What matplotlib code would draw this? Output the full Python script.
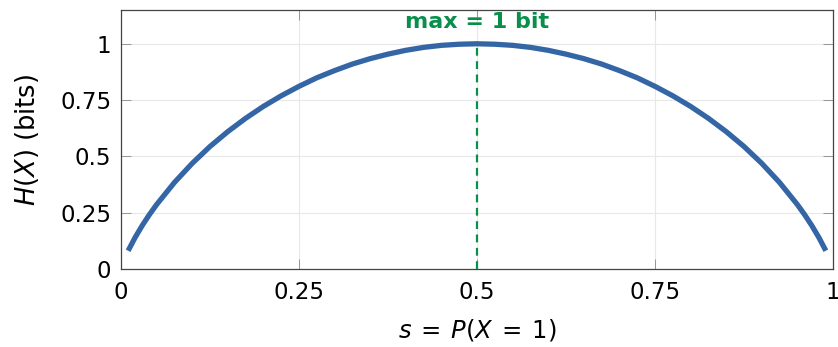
import matplotlib
matplotlib.use("Agg")
import matplotlib.pyplot as plt

# Values
s_vals = [0.01, 0.02, 0.03, 0.04, 0.05, 0.075, 0.1, 0.125, 0.15, 0.175, 0.2, 0.225,
          0.25, 0.275, 0.3, 0.325, 0.35, 0.375, 0.4, 0.425, 0.45, 0.475, 0.5,
          0.525, 0.55, 0.575, 0.6, 0.625, 0.65, 0.675, 0.7, 0.725, 0.75, 0.775,
          0.8, 0.825, 0.85, 0.875, 0.9, 0.925, 0.95, 0.96, 0.97, 0.98, 0.99]
h_vals = [0.081, 0.141, 0.194, 0.242, 0.286, 0.384, 0.469, 0.544, 0.610, 0.669, 0.722, 0.769,
          0.811, 0.849, 0.881, 0.910, 0.934, 0.954, 0.971, 0.984, 0.993, 0.998, 1.000,
          0.998, 0.993, 0.984, 0.971, 0.954, 0.934, 0.910, 0.881, 0.849, 0.811, 0.769,
          0.722, 0.669, 0.610, 0.544, 0.469, 0.384, 0.286, 0.242, 0.194, 0.141, 0.081]
x_ticks = [0, 0.25, 0.5, 0.75, 1]
x_tick_labels = ["0", "0.25", "0.5", "0.75", "1"]
y_ticks = [0, 0.25, 0.5, 0.75, 1]
y_tick_labels = ["0", "0.25", "0.5", "0.75", "1"]
max_s = 0.5
max_h = 1.0

plt.rcParams['font.family'] = ['DejaVu Sans']
plt.rcParams['mathtext.fontset'] = 'dejavusans'

fig = plt.figure(figsize=(8.38, 3.47), dpi=100)
ax = fig.add_axes([0.1444, 0.2248, 0.8496, 0.7464])

blue = '#3466a5'
green = '#08904a'

ax.plot(s_vals, h_vals, color=blue, lw=3.8, solid_capstyle='butt', zorder=3)
ax.plot([max_s, max_s], [0, max_h], color=green, lw=1.6, ls=(0, (3.5, 2.5)), zorder=4)
ax.text(max_s, 1.095, "max = 1 bit", color=green, fontsize=16, fontweight='bold',
        ha='center', va='center')

ax.set_xlim(0, 1)
ax.set_ylim(0, 1.15)
ax.set_xticks(x_ticks)
ax.set_xticklabels(x_tick_labels)
ax.set_yticks(y_ticks)
ax.set_yticklabels(y_tick_labels)
ax.tick_params(direction='in', length=7, width=0.6, color='#888888', labelsize=16.5,
               top=True, right=True)
ax.tick_params(axis='x', pad=9)
ax.tick_params(axis='y', pad=7)
ax.grid(True, color='#e8e8e8', lw=0.8)
ax.set_axisbelow(True)
for sp in ax.spines.values():
    sp.set_color('#444444')
    sp.set_linewidth(0.9)

ax.set_xlabel(r"$s\:=\:P(X\:=\:1)$", fontsize=17.5, labelpad=9)
ax.set_ylabel(r"$H(X)$ (bits)", fontsize=18.5, labelpad=14)

fig.savefig("out.png", dpi=100)
